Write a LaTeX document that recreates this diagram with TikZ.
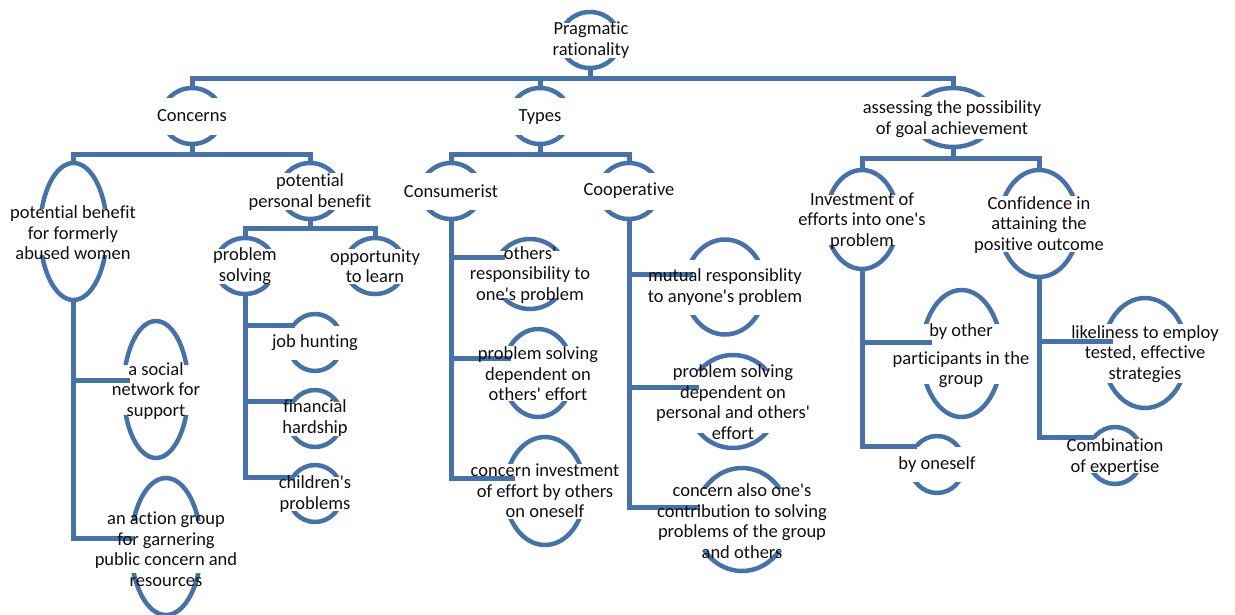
\documentclass[tikz,border=0pt]{standalone}
\usepackage{fontspec}
\setmainfont{Carlito}[Ligatures={TeXOff,CommonOff}]
\usetikzlibrary{shapes.geometric}
\definecolor{treeblue}{RGB}{70,114,168}
\definecolor{inkcol}{RGB}{15,15,15}
\tikzset{
  link/.style={draw=treeblue, line width=5pt},
  arcline/.style={draw=treeblue, line width=4.5pt},
  oval/.style={ellipse, inner sep=0pt, outer sep=0pt},
  lbl/.style={align=center, inner sep=0pt, text=inkcol,
              font=\fontsize{18.5}{20.5}\selectfont},
}
% #1 name, #2 cx, #3 cy, #4 x radius, #5 y radius, #6 half height of the gap
% an ellipse of which only the top and bottom arcs are drawn
\newcommand{\ovalpair}[6]{%
  \node[oval, minimum width=2*#4, minimum height=2*#5] (#1) at (#2,#3) {};
  \begin{scope}
    \clip (#2-#4-8,#3-#5-8) rectangle (#2+#4+8,#3-#6);
    \draw[arcline] (#1.center) ellipse [x radius=#4, y radius=#5];
  \end{scope}
  \begin{scope}
    \clip (#2-#4-8,#3+#6) rectangle (#2+#4+8,#3+#5+8);
    \draw[arcline] (#1.center) ellipse [x radius=#4, y radius=#5];
  \end{scope}}

\begin{document}
\begin{tikzpicture}[x=1pt,y=-1pt]
\useasboundingbox (0,0) rectangle (1235,614);

% ---- ovals
\ovalpair{Eroot}{590}{40}{30}{28}{18}
\ovalpair{Econc}{192}{116}{30}{28}{19}
\ovalpair{Etypes}{540}{116}{30}{28}{19}
\ovalpair{Eassess}{953}{117.5}{40}{29.5}{21.5}
\ovalpair{Epben}{73.5}{231.5}{33.5}{68.5}{23.5}
\ovalpair{Eppben}{310}{191}{30}{28}{19}
\ovalpair{Eprob}{245}{266}{30}{28}{18}
\ovalpair{Eopp}{375}{266}{30}{28}{18}
\ovalpair{Esocial}{156}{389.5}{32.5}{68.5}{25.5}
\ovalpair{Eaction}{166}{546.5}{35}{68.5}{26.5}
\ovalpair{Ejob}{315}{342.5}{27}{28.5}{17.5}
\ovalpair{Efin}{315}{418.5}{27}{28.5}{17.5}
\ovalpair{Echild}{315}{493.5}{27}{28.5}{17.5}
\ovalpair{Econs}{451}{191}{30}{28}{19}
\ovalpair{Ecoop}{629}{191}{30}{28}{19}
\ovalpair{Eothers}{530}{274}{36}{35}{24}
\ovalpair{Epsd}{538}{373}{35}{44}{28}
\ovalpair{Ecinv}{545}{491}{40}{54}{28}
\ovalpair{Emutual}{725}{287}{40}{47.5}{28}
\ovalpair{Epsdp}{733}{401.5}{45}{46.5}{31.5}
\ovalpair{Ecalso}{742}{519.5}{47}{51.5}{31.5}
\ovalpair{Einvest}{862}{219.5}{36}{49.5}{25.5}
\ovalpair{Econf}{1039}{223.5}{39.5}{53.5}{28.5}
\ovalpair{Ebyother}{961.5}{353.5}{40}{63.5}{30.5}
\ovalpair{Ebyself}{937}{464.5}{27}{28.5}{18}
\ovalpair{Elikely}{1145}{353}{42}{55}{30}
\ovalpair{Ecombo}{1115}{455.5}{27}{28.5}{17.5}

% ---- branch end points
\coordinate (social-in) at (130,380);
\coordinate (action-in) at (133,538);
\coordinate (job-in) at (295,325);
\coordinate (fin-in) at (295,401);
\coordinate (child-in) at (295,477);
\coordinate (others-in) at (505,257);
\coordinate (psd-in) at (511,358);
\coordinate (cinv-in) at (515,478);
\coordinate (mutual-in) at (693,274);
\coordinate (psdp-in) at (699,387);
\coordinate (calso-in) at (700,507);
\coordinate (byother-in) at (932,342);
\coordinate (byself-in) at (917,446);
\coordinate (likely-in) at (1113,341);
\coordinate (combo-in) at (1094,437);

% ---- tree connectors
\draw[link] (Eroot.south) -- ++(0,10) -| (Econc.north);
\draw[link] (Eroot.south) -- ++(0,10) -| (Etypes.north);
\draw[link] (Eroot.south) -- ++(0,10) -| (Eassess.north);

\draw[link] (Econc.south) -- ++(0,10) -| (Epben.north);
\draw[link] (Econc.south) -- ++(0,10) -| (Eppben.north);
\draw[link] (Etypes.south) -- ++(0,10) -| (Econs.north);
\draw[link] (Etypes.south) -- ++(0,10) -| (Ecoop.north);
\draw[link] (Eassess.south) -- ++(0,11) -| (Einvest.north);
\draw[link] (Eassess.south) -- ++(0,11) -| (Econf.north);
\draw[link] (Eppben.south) -- ++(0,9) -| (Eprob.north);
\draw[link] (Eppben.south) -- ++(0,9) -| (Eopp.north);

\draw[link] (Epben.south) |- (social-in);
\draw[link] (Epben.south) |- (action-in);
\draw[link] (Eprob.south) |- (job-in);
\draw[link] (Eprob.south) |- (fin-in);
\draw[link] (Eprob.south) |- (child-in);
\draw[link] (Econs.south) |- (others-in);
\draw[link] (Econs.south) |- (psd-in);
\draw[link] (Econs.south) |- (cinv-in);
\draw[link] (Ecoop.south) |- (mutual-in);
\draw[link] (Ecoop.south) |- (psdp-in);
\draw[link] (Ecoop.south) |- (calso-in);
\draw[link] (Einvest.south) |- (byother-in);
\draw[link] (Einvest.south) |- (byself-in);
\draw[link] (Econf.south) |- (likely-in);
\draw[link] (Econf.south) |- (combo-in);

% ---- labels
\node[lbl] (root) at (591,40) {Pragmatic\\rationality};
\node[lbl] (concerns) at (192,116) {Concerns};
\node[lbl] (types) at (540,117) {Types};
\node[lbl] (assess) at (952,119) {assessing the possibility\\of goal achievement};
\node[lbl] (pben) at (73,233) {potential benefit\\for formerly\\abused women};
\node[lbl] (ppben) at (310,192) {potential\\personal benefit};
\node[lbl] (prob) at (245,266) {problem\\solving};
\node[lbl] (opp) at (375,266) {opportunity\\to learn};
\node[lbl] (social) at (156,391) {a social\\network for\\support};
\node[lbl] (action) at (166,549) {an action group\\for garnering\\public concern and\\resources};
\node[lbl] (job) at (315,343) {job hunting};
\node[lbl] (fin) at (315,418) {financial\\hardship};
\node[lbl] (child) at (315,494) {children's\\problems};
\node[lbl] (cons) at (451,191) {Consumerist};
\node[lbl] (coop) at (629,191) {Cooperative};
\node[lbl] (others) at (530,275) {others'\\responsibility to\\one's problem};
\node[lbl] (psd) at (538,374) {problem solving\\dependent on\\others' effort};
\node[lbl] (cinv) at (545,491) {concern investment\\of effort by others\\on oneself};
\node[lbl] (mutual) at (725,287) {mutual responsiblity\\to anyone's problem};
\node[lbl] (psdp) at (733,402) {problem solving\\dependent on\\personal and others'\\effort};
\node[lbl] (calso) at (742,521) {concern also one's\\contribution to solving\\problems of the group\\and others};
\node[lbl] (invest) at (862,221) {Investment of\\efforts into one's\\problem};
\node[lbl] (conf) at (1039,225) {Confidence in\\attaining the\\positive outcome};
\node[lbl] (byother) at (961,356) {by other\\[7pt]participants in the\\group};
\node[lbl] (byself) at (937,465) {by oneself};
\node[lbl] (likely) at (1145,354) {likeliness to employ\\tested, effective\\strategies};
\node[lbl] (combo) at (1115,457) {Combination\\of expertise};
\end{tikzpicture}
\end{document}
